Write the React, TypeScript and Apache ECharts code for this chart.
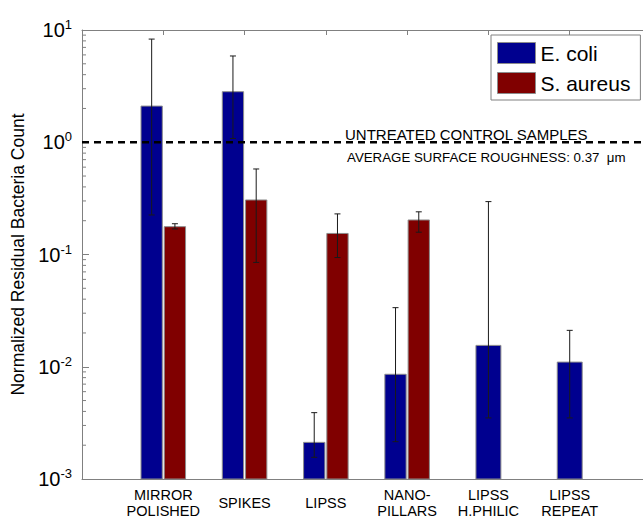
import React, { useEffect, useRef } from "react";
import * as echarts from "echarts";

const categories = ["MIRROR\nPOLISHED", "SPIKES", "LIPSS", "NANO-\nPILLARS", "LIPSS\nH.PHILIC", "LIPSS\nREPEAT"];
const eColi = [2.1, 2.82, 0.00212, 0.00857, 0.0155, 0.011];
const eColiLow = [0.225, 1.08, 0.00156, 0.00215, 0.0035, 0.0035];
const eColiHigh = [8.3, 5.87, 0.0039, 0.0336, 0.296, 0.0211];
const sAureus: (number | null)[] = [0.177, 0.306, 0.154, 0.203, null, null];
const sAureusLow: (number | null)[] = [0.169, 0.085, 0.094, 0.158, null, null];
const sAureusHigh: (number | null)[] = [0.188, 0.578, 0.23, 0.24, null, null];
const controlLevel = 1;
const yMin = 0.001;
const yMax = 10;

const FONT = "'Liberation Sans', Arial, Helvetica, sans-serif";
const BLUE = "#00008f";
const RED = "#800000";
const AXIS = "#808080";

function makeRender(other: (number | null)[], side: number) {
  return (params: any, api: any) => {
    const x = api.value(0);
    const v = api.value(1);
    const lo = api.value(2);
    const hi = api.value(3);
    const idx = x - 1;
    const c0 = api.coord([x, v]);
    const c1 = api.coord([x + 1, v]);
    const catW = c1[0] - c0[0];
    const paired = other[idx] != null;
    const barW = paired ? catW * 0.262 : catW * 0.307;
    const cx = paired ? c0[0] + side * catW * 0.143 : c0[0];
    const top = c0[1];
    const bottom = api.coord([x, yMin])[1];
    const pLo = api.coord([x, lo])[1];
    const pHi = api.coord([x, hi])[1];
    const style = api.style();
    const cap = 3;
    return {
      type: "group",
      children: [
        {
          type: "rect",
          shape: { x: cx - barW / 2, y: top, width: barW, height: bottom - top },
          style: { fill: style.fill, stroke: "#8c8c8c", lineWidth: 1 },
        },
        {
          type: "line",
          shape: { x1: cx, y1: pLo, x2: cx, y2: pHi },
          style: { stroke: "#1a1a1a", lineWidth: 1 },
        },
        {
          type: "line",
          shape: { x1: cx - cap, y1: pHi, x2: cx + cap, y2: pHi },
          style: { stroke: "#1a1a1a", lineWidth: 1 },
        },
        {
          type: "line",
          shape: { x1: cx - cap, y1: pLo, x2: cx + cap, y2: pLo },
          style: { stroke: "#1a1a1a", lineWidth: 1 },
        },
      ],
    };
  };
}

export default function App() {
  const ref = useRef<HTMLDivElement>(null);
  useEffect(() => {
    if (!ref.current) return;
    document.body.style.margin = "0";
    const chart = echarts.init(ref.current, null, { renderer: "svg" });

    const eData = eColi.map((v, i) => [i + 1, v, eColiLow[i], eColiHigh[i]]);
    const sData = sAureus
      .map((v, i) => (v == null ? null : [i + 1, v, sAureusLow[i], sAureusHigh[i]]))
      .filter((d) => d != null);

    const minorTicks: number[] = [];
    for (let k = -3; k < 1; k++) {
      for (let m = 2; m <= 9; m++) minorTicks.push(m * Math.pow(10, k));
    }

    chart.setOption({
      animation: false,
      textStyle: { fontFamily: FONT },
      grid: {
        left: 82,
        top: 30,
        width: 569,
        height: 449,
        containLabel: false,
        outerBoundsMode: "none",
      },
      legend: {
        orient: "vertical",
        left: 491,
        top: 35,
        icon: "rect",
        itemWidth: 38,
        itemHeight: 21,
        itemGap: 8,
        padding: [7, 10, 6, 6],
        borderColor: AXIS,
        borderWidth: 1,
        backgroundColor: "#fff",
        textStyle: { fontSize: 21, color: "#000", fontFamily: FONT, lineHeight: 22 },
        data: [
          { name: "E. coli", itemStyle: { color: BLUE, borderColor: "#8c8c8c", borderWidth: 1 } },
          { name: "S. aureus", itemStyle: { color: RED, borderColor: "#8c8c8c", borderWidth: 1 } },
        ],
      },
      xAxis: [
        {
          type: "value",
          min: 0,
          max: 7,
          interval: 1,
          position: "bottom",
          axisLine: { show: true, onZero: false, lineStyle: { color: AXIS, width: 1 } },
          axisTick: { show: false },
          splitLine: { show: false },
          axisLabel: {
            margin: 24,
            verticalAlign: "middle",
            fontSize: 14.5,
            lineHeight: 15.5,
            color: "#000",
            fontFamily: FONT,
            formatter: (v: number) => (v >= 1 && v <= categories.length ? categories[v - 1] : ""),
          },
        },
        {
          type: "value",
          min: 0,
          max: 7,
          interval: 1,
          position: "top",
          axisLine: { show: true, onZero: false, lineStyle: { color: AXIS, width: 1 } },
          axisTick: { show: true, inside: true, length: 5, lineStyle: { color: AXIS } },
          axisLabel: { show: false },
          splitLine: { show: false },
        },
      ],
      yAxis: {
        type: "log",
        logBase: 10,
        min: yMin,
        max: yMax,
        name: "Normalized Residual Bacteria Count",
        nameLocation: "middle",
        nameGap: 47,
        nameTextStyle: { fontSize: 17.5, color: "#000", fontFamily: FONT },
        axisLine: { show: true, lineStyle: { color: AXIS, width: 1 } },
        axisTick: { show: true, inside: true, length: 7, lineStyle: { color: AXIS } },
        splitLine: { show: false },
        axisLabel: {
          margin: 10,
          color: "#000",
          fontFamily: FONT,
          formatter: (v: number) => {
            const e = Math.round(Math.log10(v));
            return "{b|10}{s|" + e + "}";
          },
          rich: {
            b: { fontSize: 20, lineHeight: 24, color: "#000", fontFamily: FONT },
            s: { fontSize: 13, lineHeight: 13, verticalAlign: "top", color: "#000", fontFamily: FONT },
          },
        },
      },
      graphic: [
        {
          type: "text",
          left: 345,
          top: 127,
          style: { text: "UNTREATED CONTROL SAMPLES", fontSize: 15, fill: "#000", fontFamily: FONT },
          z: 10,
        },
        {
          type: "text",
          left: 347,
          top: 151,
          style: { text: "AVERAGE SURFACE ROUGHNESS: 0.37  \u03bcm", fontSize: 13.3, fill: "#000", fontFamily: FONT },
          z: 10,
        },
      ],
      series: [
        {
          name: "E. coli",
          type: "custom",
          xAxisIndex: 0,
          itemStyle: { color: BLUE, borderColor: "#8c8c8c", borderWidth: 1 },
          renderItem: makeRender(sAureus, -1),
          encode: { x: 0, y: 1 },
          data: eData,
          clip: true,
          z: 2,
        },
        {
          name: "S. aureus",
          type: "custom",
          xAxisIndex: 0,
          itemStyle: { color: RED, borderColor: "#8c8c8c", borderWidth: 1 },
          renderItem: makeRender(eColi, 1),
          encode: { x: 0, y: 1 },
          data: sData,
          clip: true,
          z: 2,
        },
        {
          name: "control",
          type: "line",
          xAxisIndex: 0,
          data: [
            [0, controlLevel],
            [7, controlLevel],
          ],
          symbol: "none",
          lineStyle: { color: "#000", width: 2.5, type: [7, 5] },
          silent: true,
          z: 5,
        },
        {
          name: "minorTicks",
          type: "custom",
          xAxisIndex: 0,
          silent: true,
          data: minorTicks.map((v) => [0, v]),
          encode: { x: 0, y: 1 },
          renderItem: (params: any, api: any) => {
            const p = api.coord([api.value(0), api.value(1)]);
            return {
              type: "line",
              shape: { x1: p[0], y1: p[1], x2: p[0] + 4, y2: p[1] },
              style: { stroke: AXIS, lineWidth: 1 },
            };
          },
          z: 3,
        },
      ],
    });
    return () => chart.dispose();
  }, []);
  return (
    <div
      ref={ref}
      style={{ position: "fixed", left: 0, top: 0, width: 643, height: 519, background: "#fff", overflow: "hidden" }}
    />
  );
}
